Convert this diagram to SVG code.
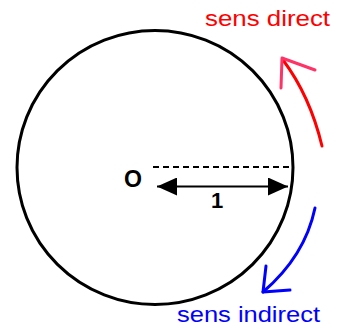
<svg xmlns="http://www.w3.org/2000/svg" width="340" height="329" viewBox="0 0 340 329">
<style>
.lbl{font-family:"Liberation Sans",Arial,sans-serif;font-weight:bold;fill:#000}
.cap{font-family:"Liberation Sans",Arial,sans-serif;font-size:22px}
.arc{fill:none;stroke-width:3;stroke-linecap:round;stroke-linejoin:round}
</style>
<defs>
<marker id="ah" viewBox="0 0 20 18" refX="20" refY="9" markerWidth="20" markerHeight="18" markerUnits="userSpaceOnUse" orient="auto-start-reverse">
<path d="M0,0 L20,9 L0,18 Z" fill="#000"/>
</marker>
</defs>
<rect width="340" height="329" fill="#fff"/>
<g id="circle">
<ellipse cx="155" cy="167.5" rx="138" ry="137" fill="none" stroke="#000" stroke-width="3"/>
</g>
<g id="origin">
<text class="lbl" x="124" y="187" font-size="23" textLength="18" lengthAdjust="spacingAndGlyphs">O</text>
</g>
<g id="connectors">
<line x1="153" y1="167" x2="292" y2="167" stroke="#000" stroke-width="1.8" stroke-dasharray="6 4"/>
<line x1="157" y1="186.5" x2="288" y2="186.5" stroke="#000" stroke-width="2" marker-start="url(#ah)" marker-end="url(#ah)"/>
</g>
<g id="radius-label">
<text class="lbl" x="217" y="208" font-size="22" text-anchor="middle">1</text>
</g>
<g id="direct">
<path class="arc" d="M322,146 Q310,96 283,60" stroke="#ff0000"/>
<path class="arc" d="M281,88 L282,58 L315,70" stroke="#ff3366"/>
<text class="cap" x="205" y="26" fill="#ff0000" textLength="125" lengthAdjust="spacingAndGlyphs">sens direct</text>
</g>
<g id="indirect">
<path class="arc" d="M315,208 Q305,256 263,292" stroke="#0000ff"/>
<path class="arc" d="M266,266 L263,292 L290,290" stroke="#0000ff"/>
<text class="cap" x="177" y="322" fill="#0000ff" textLength="143" lengthAdjust="spacingAndGlyphs">sens indirect</text>
</g>
</svg>
